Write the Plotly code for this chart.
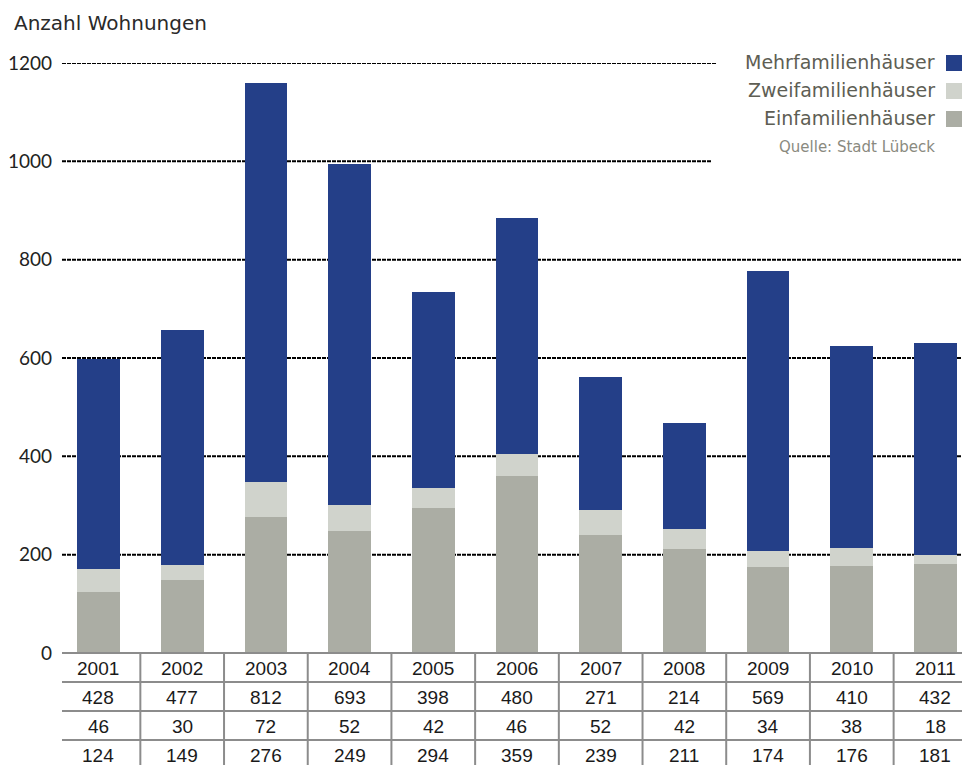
import plotly.graph_objects as go

# ---- data ----
years = ["2001", "2002", "2003", "2004", "2005", "2006", "2007", "2008", "2009", "2010", "2011"]
mehrfamilien = [428, 477, 812, 693, 398, 480, 271, 214, 569, 410, 432]
zweifamilien = [46, 30, 72, 52, 42, 46, 52, 42, 34, 38, 18]
einfamilien = [124, 149, 276, 249, 294, 359, 239, 211, 174, 176, 181]
series_names = ["Mehrfamilienhäuser", "Zweifamilienhäuser", "Einfamilienhäuser"]
y_ticks = [0, 200, 400, 600, 800, 1000, 1200]
title_text = "Anzahl Wohnungen"
source_text = "Quelle: Stadt Lübeck"

# ---- style ----
colors = {"Mehrfamilienhäuser": "#243F88", "Zweifamilienhäuser": "#D0D3CC", "Einfamilienhäuser": "#ABADA4"}
W, H = 962, 765
ML, MR, MT, MB = 62, 0, 63, 112
PW, PH = W - ML - MR, H - MT - MB
WIDE = "'DejaVu Sans', sans-serif"
TICK_FONT = "Lato, sans-serif"
TABLE_FONT = "'Liberation Sans', Arial, sans-serif"
GRID_GRAY = "#8C8C8C"


def py(p):
    return (H - MB - p) / PH


def pxx(p):
    return (p - ML) / PW


x_idx = list(range(len(years)))
fig = go.Figure()
series_vals = {"Mehrfamilienhäuser": mehrfamilien, "Zweifamilienhäuser": zweifamilien, "Einfamilienhäuser": einfamilien}
for name in reversed(series_names):
    fig.add_bar(x=x_idx, y=series_vals[name], name=name, width=0.51,
                marker=dict(color=colors[name], line=dict(width=0)), showlegend=False)

shapes = []
# grid lines
grid_end = {1200: pxx(717), 1000: pxx(711)}
for v in y_ticks[1:]:
    shapes.append(dict(type="line", xref="paper", yref="y", x0=0, x1=grid_end.get(v, 1), y0=v, y1=v,
                       line=dict(color="black", width=2, dash="4px,1px"), layer="below"))
# table horizontal lines
row_h = 29
for r in range(4):
    yy = py(653 + r * row_h)
    shapes.append(dict(type="line", xref="paper", yref="paper", x0=0, x1=1, y0=yy, y1=yy,
                       line=dict(color=GRID_GRAY, width=2)))
# table vertical lines
for k in range(len(years) - 1):
    shapes.append(dict(type="line", xref="x", yref="paper", x0=k + 0.5, x1=k + 0.5, y0=0, y1=py(770),
                       line=dict(color=GRID_GRAY, width=2)))

annotations = []
rows = [years, mehrfamilien, zweifamilien, einfamilien]
for r, vals in enumerate(rows):
    for i, v in enumerate(vals):
        annotations.append(dict(x=i, y=py(653 + row_h * r + row_h / 2 + 1), xref="x", yref="paper",
                                text=str(v), showarrow=False, xanchor="center", yanchor="middle",
                                font=dict(family=TABLE_FONT, size=19, color="#1a1a1a")))

# legend (text right, swatch right of text)
leg_y = [62, 90, 118]
for name, yc in zip(series_names, leg_y):
    annotations.append(dict(x=pxx(937), y=py(yc), xref="paper", yref="paper", text=name, showarrow=False,
                            xanchor="right", yanchor="middle",
                            font=dict(family=WIDE, size=19, color="#5E5E54")))
    shapes.append(dict(type="rect", xref="paper", yref="paper", x0=pxx(946), x1=pxx(962),
                       y0=py(yc + 9), y1=py(yc - 7), fillcolor=colors[name], line=dict(width=0)))
annotations.append(dict(x=pxx(937), y=py(147), xref="paper", yref="paper", text=source_text, showarrow=False,
                        xanchor="right", yanchor="middle", font=dict(family=WIDE, size=15, color="#8A8A80")))

fig.update_layout(
    width=W, height=H, margin=dict(l=ML, r=MR, t=MT, b=MB, pad=0),
    paper_bgcolor="white", plot_bgcolor="white", barmode="stack",
    title=dict(text=title_text, x=14 / W, xanchor="left", xref="container", y=1 - 23 / H, yanchor="middle",
               yref="container", font=dict(family=WIDE, size=20, color="#2a2a2a")),
    xaxis=dict(range=[-0.436, 10.317], showticklabels=False, showgrid=False, zeroline=False,
               showline=False, ticks=""),
    yaxis=dict(range=[0, 1200], tickvals=y_ticks, showgrid=False, zeroline=False, showline=False,
               ticks="", ticklabelstandoff=9, tickfont=dict(family=TICK_FONT, size=19, color="#222222")),
    shapes=shapes, annotations=annotations, showlegend=False,
)
fig.write_html("out.html", config={"displayModeBar": False},
               post_script="document.body.style.margin='0';document.body.style.overflow='hidden';")
